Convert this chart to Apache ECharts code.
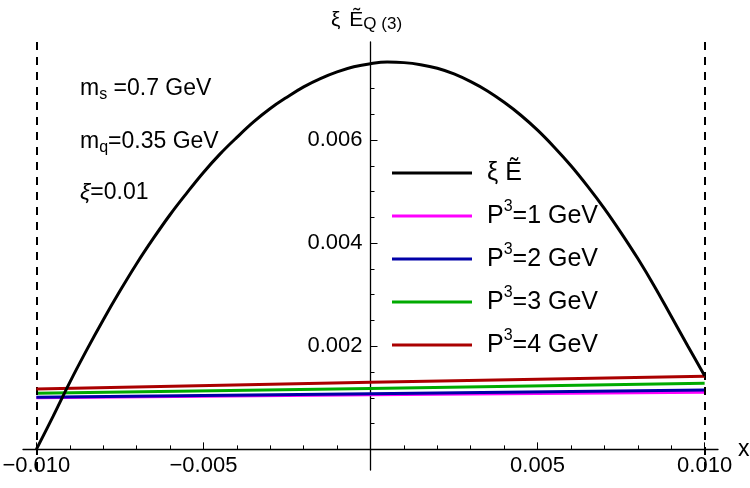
<!DOCTYPE html>
<html>
<head>
<meta charset="utf-8">
<script src="https://cdn.jsdelivr.net/npm/echarts@6/dist/echarts.min.js"></script>
<style>
  html, body { margin: 0; padding: 0; background: #fff; }
  #chart { width: 750px; height: 488px; }
</style>
</head>
<body>
<div id="chart"></div>
<script>
// x grid of the black curve (step 0.0005)
const xValues = [-0.0100, -0.0095, -0.0090, -0.0085, -0.0080, -0.0075, -0.0070, -0.0065, -0.0060, -0.0055,
  -0.0050, -0.0045, -0.0040, -0.0035, -0.0030, -0.0025, -0.0020, -0.0015, -0.0010, -0.0005,
  0, 0.0005, 0.0010, 0.0015, 0.0020, 0.0025, 0.0030, 0.0035, 0.0040, 0.0045,
  0.0050, 0.0055, 0.0060, 0.0065, 0.0070, 0.0075, 0.0080, 0.0085, 0.0090, 0.0095, 0.0100];
const xiEValues = [0, 0.00064, 0.0013, 0.00192, 0.00251, 0.00307, 0.0036, 0.00409, 0.00455, 0.00497,
  0.00537, 0.00573, 0.00605, 0.00635, 0.00661, 0.00683, 0.00703, 0.00719, 0.00732, 0.00742,
  0.00748, 0.00751, 0.0075, 0.00746, 0.00739, 0.00728, 0.00713, 0.00695, 0.00673, 0.00648,
  0.00619, 0.00586, 0.0055, 0.0051, 0.00467, 0.0042, 0.0037, 0.00316, 0.00258, 0.002, 0.00143];

// the P3 lines are straight
const lineX = [-0.010, 0, 0.010];
const p1Values = [0.00100, 0.00106, 0.00111];
const p2Values = [0.00101, 0.00108, 0.00115];
const p3Values = [0.00109, 0.00118, 0.00128];
const p4Values = [0.00117, 0.00130, 0.00142];

const xTicks = [-0.010, -0.005, 0.005, 0.010];
const xMinorTicks = [-0.009, -0.008, -0.007, -0.006, -0.004, -0.003, -0.002, -0.001,
  0.001, 0.002, 0.003, 0.004, 0.006, 0.007, 0.008, 0.009];
const yTicks = [0.002, 0.004, 0.006];
const yMinorTicks = [0.0005, 0.001, 0.0015, 0.0025, 0.003, 0.0035, 0.0045, 0.005, 0.0055, 0.0065, 0.007, 0.0075];
const dashedAt = [-0.010, 0.010];

const font = "Liberation Sans";
const toPairs = (xs, ys) => xs.map((x, i) => [x, ys[i]]);
const fmt = v => (v < 0 ? "\u2212" : "") + Math.abs(v).toFixed(3);

// axes cross at (0, 0): shift them into the plot
const xMin = -0.0104, xMax = 0.0104, yMin = -0.0004, yMax = 0.0079;
const gridBox = { left: 23, right: 32, top: 42, bottom: 18 };
const plotW = 750 - gridBox.left - gridBox.right;
const plotH = 488 - gridBox.top - gridBox.bottom;
const yAxisOffset = -plotW * (0 - xMin) / (xMax - xMin);
const xAxisOffset = -plotH * (0 - yMin) / (yMax - yMin);

const legendNames = {
  xiE: "{sp|}\u03be \u1ebc",
  p1: "{sp|}P{sup|3}=1 GeV",
  p2: "{sp|}P{sup|3}=2 GeV",
  p3: "{sp|}P{sup|3}=3 GeV",
  p4: "{sp|}P{sup|3}=4 GeV"
};

const chart = echarts.init(document.getElementById("chart"), null, { renderer: "canvas" });

const option = {
  animation: false,
  backgroundColor: "#fff",
  textStyle: { fontFamily: font },
  grid: Object.assign({ containLabel: false, outerBoundsMode: "none" }, gridBox),
  xAxis: [
    {
      type: "value",
      position: "bottom",
      offset: xAxisOffset,
      min: xMin,
      max: xMax,
      name: "x",
      nameLocation: "end",
      nameGap: 17,
      nameTextStyle: { fontSize: 23, color: "#000", fontFamily: font },
      axisLine: { onZero: false, lineStyle: { color: "#000", width: 1.3 } },
      axisTick: { inside: true, length: 7, customValues: xTicks, lineStyle: { color: "#000" } },
      axisLabel: { customValues: xTicks, formatter: fmt, fontSize: 22, color: "#000", margin: 6, fontFamily: font },
      splitLine: { show: false }
    },
    {
      type: "value",
      position: "bottom",
      offset: xAxisOffset,
      min: xMin,
      max: xMax,
      axisLine: { show: false, onZero: false },
      axisTick: { inside: true, length: 4, customValues: xMinorTicks, lineStyle: { color: "#000" } },
      axisLabel: { show: false },
      splitLine: { show: false }
    }
  ],
  yAxis: [
    {
      type: "value",
      position: "left",
      offset: yAxisOffset,
      min: yMin,
      max: yMax,
      name: "{m|\u03be}{sp|}{m|\u1ebc}{s|Q (3)}",
      nameLocation: "end",
      nameGap: 9,
      nameTextStyle: {
        color: "#000",
        fontFamily: font,
        padding: [0, 8, 0, 0],
        rich: {
          m: { fontSize: 21, lineHeight: 26, color: "#000", fontFamily: font },
          sp: { width: 9 },
          s: { fontSize: 17, lineHeight: 18, verticalAlign: "bottom", color: "#000", fontFamily: font }
        }
      },
      axisLine: { onZero: false, lineStyle: { color: "#000", width: 1.3 } },
      axisTick: { inside: true, length: 7, customValues: yTicks, lineStyle: { color: "#000" } },
      axisLabel: { customValues: yTicks, formatter: fmt, fontSize: 22, color: "#000", margin: 8, fontFamily: font },
      splitLine: { show: false }
    },
    {
      type: "value",
      position: "left",
      offset: yAxisOffset,
      min: yMin,
      max: yMax,
      axisLine: { show: false, onZero: false },
      axisTick: { inside: true, length: 4, customValues: yMinorTicks, lineStyle: { color: "#000" } },
      axisLabel: { show: false },
      splitLine: { show: false }
    }
  ],
  legend: {
    orient: "vertical",
    left: 392,
    top: 156,
    padding: 0,
    itemWidth: 80,
    itemHeight: 3,
    itemGap: 9,
    icon: "rect",
    selectedMode: false,
    data: ["xiE", "p1", "p2", "p3", "p4"],
    formatter: name => legendNames[name],
    textStyle: {
      color: "#000",
      fontSize: 25,
      lineHeight: 34,
      fontFamily: font,
      rich: {
        sp: { width: 10 },
        sup: { fontSize: 16, lineHeight: 16, verticalAlign: "top", color: "#000", fontFamily: font }
      }
    }
  },
  graphic: [
    {
      type: "text",
      left: 80,
      top: 77,
      style: {
        text: "{m|m}{s|s}{m| =0.7 GeV}",
        rich: {
          m: { fontSize: 23, lineHeight: 28, fill: "#000", fontFamily: font },
          s: { fontSize: 16, lineHeight: 15, verticalAlign: "bottom", fill: "#000", fontFamily: font }
        }
      }
    },
    {
      type: "text",
      left: 80,
      top: 130,
      style: {
        text: "{m|m}{s|q}{m|=0.35 GeV}",
        rich: {
          m: { fontSize: 23, lineHeight: 28, fill: "#000", fontFamily: font },
          s: { fontSize: 16, lineHeight: 15, verticalAlign: "bottom", fill: "#000", fontFamily: font }
        }
      }
    },
    {
      type: "text",
      left: 80,
      top: 181,
      style: {
        text: "{i|\u03be}{m|=0.01}",
        rich: {
          m: { fontSize: 23, lineHeight: 28, fill: "#000", fontFamily: font },
          i: { fontSize: 23, lineHeight: 28, fontStyle: "italic", fill: "#000", fontFamily: font }
        }
      }
    }
  ],
  series: [
    {
      name: "p1", type: "line", data: toPairs(lineX, p1Values), showSymbol: false, symbol: "none",
      color: "#ff00ff", lineStyle: { color: "#ff00ff", width: 3 }, z: 2
    },
    {
      name: "p2", type: "line", data: toPairs(lineX, p2Values), showSymbol: false, symbol: "none",
      color: "#0000a8", lineStyle: { color: "#0000a8", width: 3 }, z: 3
    },
    {
      name: "p3", type: "line", data: toPairs(lineX, p3Values), showSymbol: false, symbol: "none",
      color: "#00aa00", lineStyle: { color: "#00aa00", width: 3 }, z: 4
    },
    {
      name: "p4", type: "line", data: toPairs(lineX, p4Values), showSymbol: false, symbol: "none",
      color: "#aa0000", lineStyle: { color: "#aa0000", width: 3 }, z: 5
    },
    {
      name: "xiE", type: "line", data: toPairs(xValues, xiEValues), showSymbol: false, symbol: "none",
      smooth: 0.4, color: "#000", lineStyle: { color: "#000", width: 3 }, z: 6,
      markLine: {
        silent: true,
        symbol: "none",
        label: { show: false },
        lineStyle: { color: "#000", type: [8, 7], width: 2 },
        data: dashedAt.map(v => ({ xAxis: v }))
      }
    }
  ]
};

chart.setOption(option);
</script>
</body>
</html>
